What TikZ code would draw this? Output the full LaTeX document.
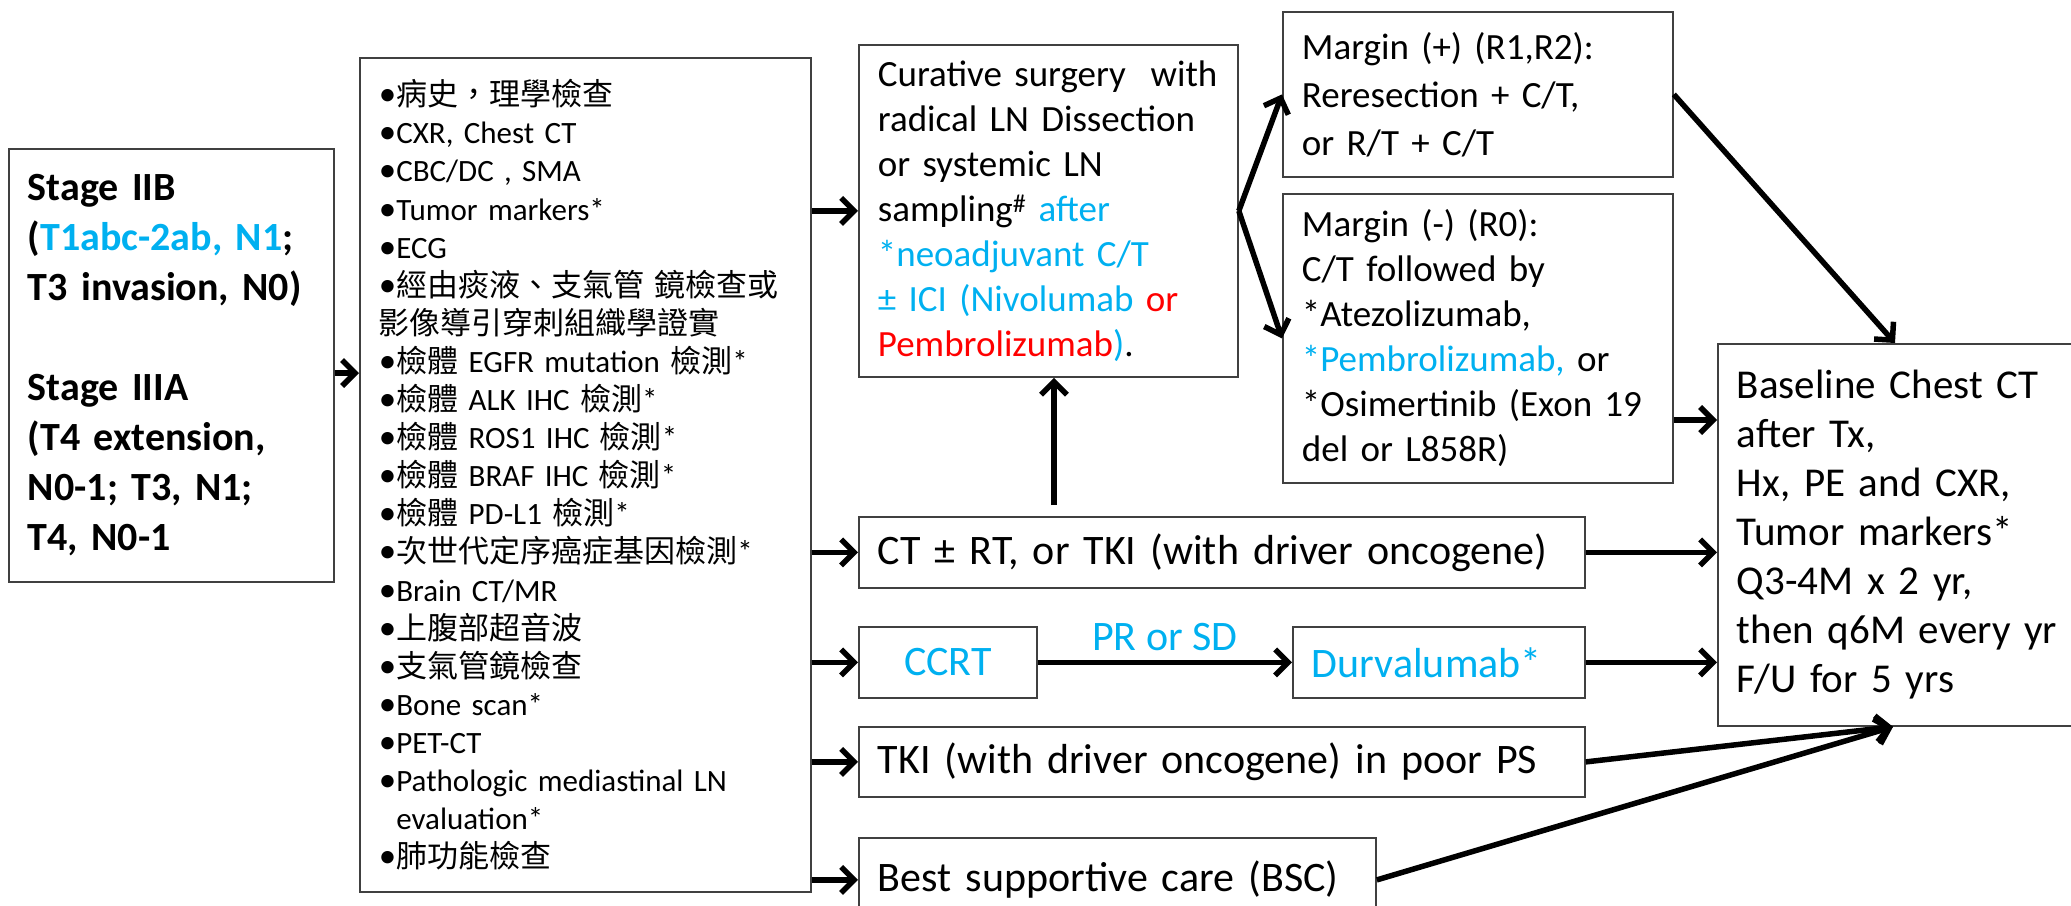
\documentclass[tikz,border=0pt]{standalone}
\usepackage{fontspec}
\setmainfont{Carlito}
\newfontfamily\zhfont{Noto Sans CJK TC}
\newcommand{\zh}[1]{{\zhfont #1}}
\newcommand{\bul}{{\fontsize{35}{38}\selectfont•}}
\usetikzlibrary{arrows.meta,calc}
\definecolor{sky}{HTML}{00B0F0}
\definecolor{alert}{HTML}{FF0000}

\begin{document}
\begin{tikzpicture}[x=1pt,y=-1pt,
    box/.style={draw=black!75,line width=1.8pt,anchor=north west,align=left,inner xsep=19pt,inner ysep=0pt},
    big/.style={font=\fontsize{42}{50}\selectfont},
    arr/.style={-{Straight Barb[length=13pt,width=26pt]},line width=5.5pt}]
  \useasboundingbox (0,0) rectangle (2071,905);
  \clip (0,0) rectangle (2071,905);

  % stages
  \node[box,text width=287pt,minimum height=433pt,font=\bfseries\fontsize{40}{50}\selectfont] (stage) at (8,148)
    {Stage IIB\\(\textcolor{sky}{T1abc-2ab, N1};\\T3 invasion, N0)\\[50pt]
     Stage IIIA\\(T4 extension,\\N0-1; T3, N1;\\T4, N0-1};

  % work-up
  \node[box,text width=413pt,minimum height=834pt,font=\fontsize{31}{38.1}\selectfont] (exam) at (359,57)
    {\bul\zh{病史，理學檢查}\\
     \bul CXR, Chest CT\\
     \bul CBC/DC , SMA\\
     \bul Tumor markers*\\
     \bul ECG\\
     \bul\zh{經由痰液、支氣管 鏡檢查或}\\
     \zh{影像導引穿刺組織學證實}\\
     \bul\zh{檢體} EGFR mutation \zh{檢測}*\\
     \bul\zh{檢體} ALK IHC \zh{檢測}*\\
     \bul\zh{檢體} ROS1 IHC \zh{檢測}*\\
     \bul\zh{檢體} BRAF IHC \zh{檢測}*\\
     \bul\zh{檢體} PD-L1 \zh{檢測}*\\
     \bul\zh{次世代定序癌症基因檢測}*\\
     \bul Brain CT/MR\\
     \bul\zh{上腹部超音波}\\
     \bul\zh{支氣管鏡檢查}\\
     \bul Bone scan*\\
     \bul PET-CT\\
     \bul Pathologic mediastinal LN\\
     \hphantom{\bul}evaluation*\\
     \bul\zh{肺功能檢查}};

  % treatment
  \node[box,text width=341pt,minimum height=332pt,font=\fontsize{37}{45}\selectfont] (cur) at (858,44)
    {Curative surgery~ with\\radical LN Dissection\\or systemic LN\\
     sampling\textsuperscript{\#} \textcolor{sky}{after}\\
     \textcolor{sky}{*neoadjuvant C/T}\\
     \textcolor{sky}{± ICI (Nivolumab} \textcolor{alert}{or}\\
     \textcolor{alert}{Pembrolizumab}\textcolor{sky}{)}.};
  \node[box,text width=352pt,minimum height=165pt,font=\fontsize{37}{48}\selectfont] (mplus) at (1282,11)
    {Margin (+) (R1,R2):\\Reresection + C/T,\\or R/T + C/T};
  \node[box,text width=352pt,minimum height=289pt,font=\fontsize{37}{45}\selectfont] (mminus) at (1282,193)
    {Margin (-) (R0):\\C/T followed by\\{}*Atezolizumab,\\
     \textcolor{sky}{*Pembrolizumab,} or\\{}*Osimertinib (Exon 19\\del or L858R)};
  \node[box,big,text width=688pt,minimum height=71pt] (ct) at (858,516)
    {CT ± RT, or TKI (with driver oncogene)};
  \node[box,big,align=center,text width=140pt,minimum height=71pt,text=sky] (ccrt) at (858,626) {CCRT};
  \node[box,big,text width=254pt,minimum height=71pt,text=sky] (durva) at (1292,626) {Durvalumab*};
  \node[box,big,text width=688pt,minimum height=70pt] (tki) at (858,726)
    {TKI (with driver oncogene) in poor PS};
  \node[box,big,text width=479pt,minimum height=84pt] (bsc) at (858,837)
    {Best supportive care (BSC)};

  % follow-up
  \node[box,text width=422pt,minimum height=382pt,font=\fontsize{41}{49}\selectfont] (base) at (1717,343)
    {Baseline Chest CT\\after Tx,\\Hx, PE and CXR,\\Tumor markers*\\Q3-4M x 2 yr,\\
     then q6M every yr\\F/U for 5 yrs};

  \coordinate (up) at ([xshift=196pt]ct.north west);
  \coordinate (topin) at ([xshift=178pt]base.north west);
  \coordinate (botin) at ([xshift=176pt]base.south west);

  \draw[arr] (stage.east |- 0,373) -- (exam.west |- 0,373);
  \foreach \t in {cur,ct,ccrt,tki,bsc}
    \draw[arr] (exam.east |- \t.west) -- (\t.west);
  \draw[arr] (cur.east) -- (mplus.west);
  \draw[arr] (cur.east) -- (mminus.west);
  \draw[arr,shorten <=11pt] (up) -- (up |- cur.south);
  \draw[arr] (ccrt) -- node[above=6pt,text=sky,big] {PR or SD} (durva);
  \draw[arr] (mplus.east) -- (topin);
  \draw[arr] (mminus.east |- 0,420) -- (base.west |- 0,420);
  \draw[arr] (ct.east) -- (base.west |- ct.east);
  \draw[arr] (durva.east) -- (base.west |- durva.east);
  \draw[arr] (tki.east) -- (botin);
  \draw[arr] (bsc.east) -- (botin);
\end{tikzpicture}
\end{document}
